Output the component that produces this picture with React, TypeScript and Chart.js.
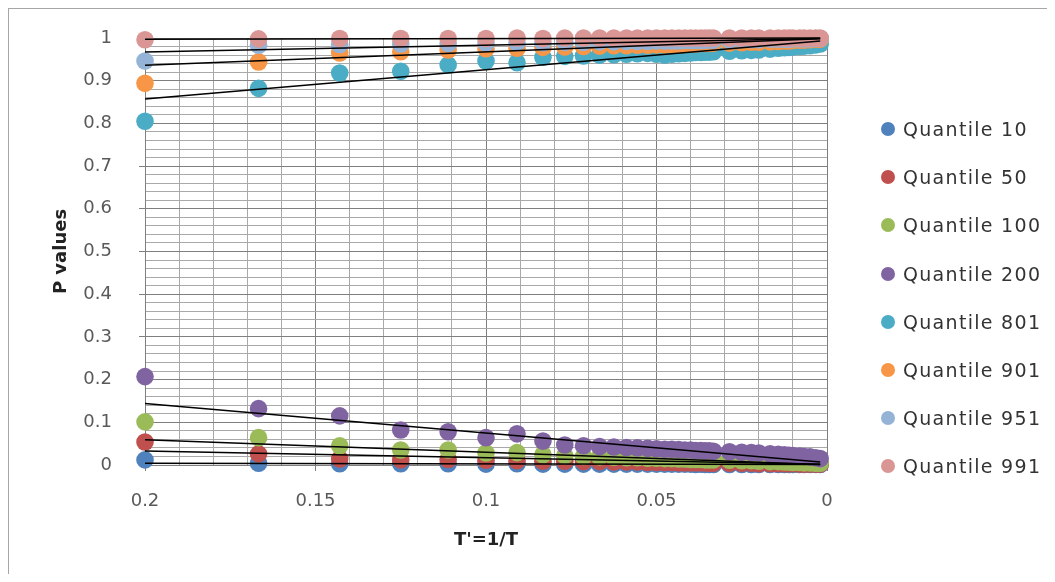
import React, { useEffect, useRef } from "react";
import { Chart, registerables } from "chart.js";
Chart.register(...registerables);

const seriesNames = [
  "Quantile 10",
  "Quantile 50",
  "Quantile 100",
  "Quantile 200",
  "Quantile 801",
  "Quantile 901",
  "Quantile 951",
  "Quantile 991",
];
const seriesColors = ["#4F81BD", "#C0504D", "#9BBB59", "#8064A2", "#4BACC6", "#F79646", "#95B3D7", "#D99694"];

// T' = 1/T
const xValues = [
  0.2, 0.1667, 0.1429, 0.125, 0.1111, 0.1, 0.0909, 0.0833, 0.0769, 0.0714,
  0.0667, 0.0625, 0.0588, 0.0556, 0.0526, 0.05, 0.0476, 0.0455, 0.0435, 0.0417,
  0.04, 0.0385, 0.037, 0.0357, 0.0345, 0.0333, 0.0286, 0.025, 0.0222, 0.02,
  0.0167, 0.0143, 0.0125, 0.0111, 0.01, 0.008, 0.0067, 0.005, 0.0033, 0.002,
];

const q10 = [
  0.012, 0.004, 0.003, 0.003, 0.003, 0.002, 0.003, 0.002, 0.002, 0.002,
  0.002, 0.002, 0.002, 0.002, 0.002, 0.002, 0.002, 0.002, 0.002, 0.002,
  0.002, 0.001, 0.002, 0.001, 0.001, 0.001, 0.001, 0.001, 0.001, 0.001,
  0.001, 0.001, 0.001, 0.001, 0.001, 0.001, 0.001, 0.001, 0.001, 0.001,
];
const q50 = [
  0.054, 0.026, 0.014, 0.012, 0.013, 0.011, 0.01, 0.009, 0.009, 0.008,
  0.008, 0.007, 0.007, 0.007, 0.006, 0.006, 0.006, 0.006, 0.005, 0.005,
  0.005, 0.005, 0.005, 0.005, 0.004, 0.004, 0.004, 0.004, 0.004, 0.003,
  0.003, 0.003, 0.003, 0.003, 0.003, 0.002, 0.002, 0.002, 0.002, 0.002,
];
const q100 = [
  0.101, 0.064, 0.045, 0.035, 0.035, 0.028, 0.029, 0.024, 0.022, 0.02,
  0.019, 0.018, 0.017, 0.017, 0.016, 0.016, 0.015, 0.015, 0.014, 0.014,
  0.013, 0.013, 0.013, 0.012, 0.012, 0.012, 0.011, 0.01, 0.01, 0.009,
  0.008, 0.008, 0.007, 0.007, 0.006, 0.006, 0.005, 0.005, 0.004, 0.004,
];
const q200 = [
  0.207, 0.132, 0.115, 0.082, 0.078, 0.064, 0.073, 0.056, 0.047, 0.045,
  0.043, 0.042, 0.041, 0.04, 0.039, 0.038, 0.037, 0.037, 0.036, 0.035,
  0.035, 0.034, 0.034, 0.033, 0.033, 0.032, 0.031, 0.03, 0.029, 0.028,
  0.026, 0.025, 0.024, 0.023, 0.022, 0.021, 0.02, 0.019, 0.017, 0.015,
];
const q801 = [
  0.805, 0.882, 0.918, 0.922, 0.937, 0.946, 0.942, 0.955, 0.957, 0.958,
  0.96, 0.961, 0.962, 0.963, 0.964, 0.962, 0.96, 0.962, 0.963, 0.964,
  0.965, 0.966, 0.966, 0.967, 0.967, 0.968, 0.969, 0.97, 0.971, 0.972,
  0.974, 0.976, 0.977, 0.978, 0.979, 0.98, 0.981, 0.982, 0.984, 0.986,
];
const q901 = [
  0.894, 0.944, 0.965, 0.968, 0.972, 0.975, 0.976, 0.978, 0.979, 0.98,
  0.981, 0.982, 0.982, 0.983, 0.983, 0.984, 0.984, 0.985, 0.985, 0.985,
  0.986, 0.986, 0.987, 0.987, 0.987, 0.988, 0.988, 0.989, 0.99, 0.99,
  0.991, 0.992, 0.993, 0.993, 0.994, 0.995, 0.995, 0.996, 0.997, 0.997,
];
const q951 = [
  0.946, 0.983, 0.985, 0.986, 0.987, 0.988, 0.989, 0.989, 0.99, 0.99,
  0.991, 0.991, 0.992, 0.992, 0.992, 0.993, 0.993, 0.993, 0.993, 0.994,
  0.994, 0.994, 0.994, 0.995, 0.995, 0.995, 0.995, 0.996, 0.996, 0.996,
  0.997, 0.997, 0.997, 0.997, 0.998, 0.998, 0.998, 0.998, 0.999, 0.999,
];
const q991 = [
  0.996, 0.998, 0.999, 0.999, 0.999, 0.999, 1.0, 0.999, 1.0, 1.0,
  1.0, 1.0, 1.0, 1.0, 1.0, 1.0, 1.0, 1.0, 1.0, 1.0,
  1.0, 1.0, 1.0, 1.0, 1.0, 1.0, 1.0, 1.0, 1.0, 1.0,
  1.0, 1.0, 1.0, 1.0, 1.0, 1.0, 1.0, 1.0, 1.0, 1.0,
];
const seriesValues = [q10, q50, q100, q200, q801, q901, q951, q991];

// linear trend lines: value at first x (0.2) and at last x
const trendAtFirst = [0.004, 0.033, 0.059, 0.144, 0.857, 0.936, 0.967, 0.997];
const trendAtLast = [0.001, 0.002, 0.001, 0.007, 0.993, 0.998, 0.999, 1.0];

const yTickStep = 0.02;
const yLabelStep = 0.1;
const xTickStep = 0.01;
const xLabelStep = 0.05;

const FONT = "'DejaVu Sans', 'Open Sans', sans-serif";
const MAJOR = "#7f7f7f";
const MINOR = "#a9a9a9";

const isMultiple = (v: number, step: number) => Math.abs(v / step - Math.round(v / step)) < 1e-6;

export default function App() {
  const ref = useRef<HTMLCanvasElement>(null);

  useEffect(() => {
    if (!ref.current) return;
    const last = xValues.length - 1;
    const scatterSets = seriesNames.map((name, i) => ({
      label: name,
      data: xValues.map((x, j) => ({ x, y: seriesValues[i][j] })),
      backgroundColor: seriesColors[i],
      borderColor: seriesColors[i],
      borderWidth: 0,
      pointRadius: 8.8,
      pointHoverRadius: 8.8,
      showLine: false,
      order: 20 - i,
      clip: false as any,
    }));
    const trendSets = seriesNames.map((name, i) => ({
      label: name + " trend",
      data: [
        { x: xValues[0], y: trendAtFirst[i] },
        { x: xValues[last], y: trendAtLast[i] },
      ],
      borderColor: "#000000",
      backgroundColor: "#000000",
      borderWidth: 1.5,
      pointRadius: 0,
      pointHoverRadius: 0,
      showLine: true,
      order: 0,
      clip: false as any,
    }));

    const chart = new Chart(ref.current, {
      type: "scatter",
      data: { datasets: [...trendSets, ...scatterSets] as any },
      options: {
        responsive: false,
        animation: false,
        devicePixelRatio: 1,
        layout: { padding: { top: 29, right: 220, left: 0, bottom: 0 } },
        plugins: { legend: { display: false }, tooltip: { enabled: false } },
        scales: {
          x: {
            type: "linear",
            reverse: true,
            min: 0,
            max: 0.2,
            afterFit: (s: any) => {
              s.height = 109;
              s.paddingLeft = 0;
              s.paddingRight = 0;
            },
            ticks: {
              stepSize: xTickStep,
              autoSkip: false,
              maxRotation: 0,
              padding: 20,
              color: "#595959",
              font: { family: FONT, size: 18 },
              callback: (v: any) => (isMultiple(Number(v), xLabelStep) ? String(Math.round(Number(v) * 100) / 100) : ""),
            },
            grid: {
              color: (c: any) => (isMultiple(c.tick.value, xLabelStep) ? MAJOR : MINOR),
              tickColor: (c: any) => (isMultiple(c.tick.value, xLabelStep) ? MAJOR : "rgba(0,0,0,0)"),
              tickLength: 6,
              lineWidth: 1,
            },
            border: { color: MAJOR },
            title: {
              display: true,
              text: "T'=1/T",
              color: "#222222",
              font: { family: FONT, size: 18, weight: "bold" },
              padding: { top: 0, bottom: 23 },
            },
          },
          y: {
            type: "linear",
            min: 0,
            max: 1,
            afterFit: (s: any) => {
              s.width = 136;
              s.paddingTop = 0;
              s.paddingBottom = 0;
            },
            ticks: {
              stepSize: yTickStep,
              autoSkip: false,
              padding: 27,
              color: "#595959",
              font: { family: FONT, size: 18 },
              callback: (v: any) => (isMultiple(Number(v), yLabelStep) ? String(Math.round(Number(v) * 10) / 10) : ""),
            },
            grid: {
              color: (c: any) => (isMultiple(c.tick.value, yLabelStep) ? MAJOR : MINOR),
              tickColor: (c: any) => (isMultiple(c.tick.value, yLabelStep) ? MAJOR : "rgba(0,0,0,0)"),
              tickLength: 6,
              lineWidth: 1,
            },
            border: { color: MAJOR },
            title: {
              display: true,
              text: "P values",
              color: "#222222",
              font: { family: FONT, size: 18, weight: "bold" },
              padding: { top: 42, bottom: 0 },
            },
          },
        },
      } as any,
    });
    return () => chart.destroy();
  }, []);

  return (
    <div
      style={{
        position: "relative",
        width: 1038,
        height: 565,
        borderLeft: "1px solid #a6a6a6",
        borderTop: "1px solid #a6a6a6",
        background: "#ffffff",
        overflow: "hidden",
      }}
    >
      <canvas ref={ref} width={1038} height={565} style={{ display: "block", width: 1038, height: 565 }} />
      <div
        style={{
          position: "absolute",
          left: 872,
          top: 96,
          fontFamily: FONT,
          fontSize: 19,
          letterSpacing: 1.3,
          color: "#333333",
        }}
      >
        {seriesNames.map((name, i) => (
          <div key={name} style={{ display: "flex", alignItems: "center", height: 48.2 }}>
            <span
              style={{
                display: "inline-block",
                width: 14,
                height: 14,
                borderRadius: "50%",
                background: seriesColors[i],
                marginRight: 8,
              }}
            />
            <span style={{ whiteSpace: "nowrap" }}>{name}</span>
          </div>
        ))}
      </div>
    </div>
  );
}
